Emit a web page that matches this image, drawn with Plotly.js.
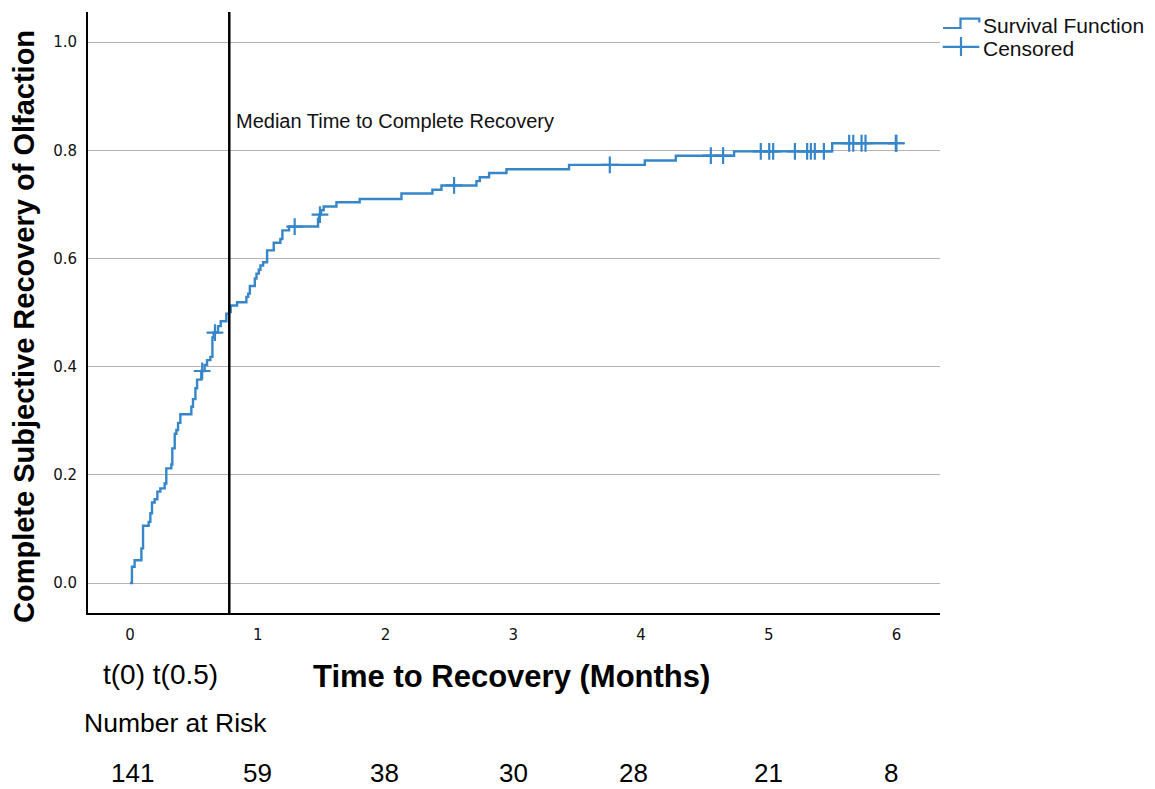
<!DOCTYPE html>
<html>
<head>
<meta charset="utf-8">
<script src="https://cdn.plot.ly/plotly-3.0.1.min.js"></script>
<style>
html,body{margin:0;padding:0;background:#fff;}
#chart{width:1155px;height:789px;}
</style>
</head>
<body>
<div id="chart"></div>
<script>
// Kaplan-Meier step data (time in months, cumulative complete recovery)
const stepTimes = [0, 0.015, 0.036, 0.089, 0.102, 0.146, 0.159, 0.172, 0.193, 0.214, 0.237, 0.271, 0.284, 0.323, 0.331, 0.350, 0.363, 0.376, 0.394, 0.480, 0.493, 0.512, 0.525, 0.558, 0.584, 0.603, 0.629, 0.645, 0.655, 0.689, 0.710, 0.754, 0.776, 0.788, 0.838, 0.911, 0.925, 0.938, 0.977, 0.990, 1.008, 1.021, 1.042, 1.073, 1.125, 1.177, 1.193, 1.245, 1.472, 1.480, 1.495, 1.516, 1.616, 1.798, 2.125, 2.367, 2.438, 2.712, 2.738, 2.811, 2.947, 3.437, 4.030, 4.273, 4.729, 5.497, 6.000];
const stepLevels = [0, 0.030, 0.042, 0.064, 0.106, 0.113, 0.129, 0.149, 0.155, 0.169, 0.175, 0.184, 0.212, 0.219, 0.249, 0.276, 0.283, 0.296, 0.312, 0.326, 0.340, 0.360, 0.376, 0.392, 0.403, 0.412, 0.418, 0.454, 0.463, 0.475, 0.484, 0.498, 0.501, 0.513, 0.519, 0.529, 0.535, 0.549, 0.563, 0.572, 0.579, 0.587, 0.593, 0.615, 0.629, 0.636, 0.652, 0.659, 0.673, 0.681, 0.689, 0.696, 0.704, 0.710, 0.720, 0.727, 0.735, 0.743, 0.750, 0.758, 0.765, 0.773, 0.781, 0.790, 0.798, 0.813, 0.813];

const censorTimes = [0.565, 0.665, 1.289, 1.487, 2.537, 3.756, 4.547, 4.643, 4.938, 5.004, 5.035, 5.205, 5.301, 5.330, 5.361, 5.432, 5.630, 5.662, 5.727, 5.758, 5.995, 6.000];
const censorLevels = [0.392, 0.463, 0.659, 0.681, 0.735, 0.773, 0.790, 0.790, 0.798, 0.798, 0.798, 0.798, 0.798, 0.798, 0.798, 0.798, 0.813, 0.813, 0.813, 0.813, 0.813, 0.813];

const medianTime = 0.777;
const xTickVals = [0, 1, 2, 3, 4, 5, 6];
const yTickVals = [0, 0.2, 0.4, 0.6, 0.8, 1.0];
const riskTimes = [0, 1, 2, 3, 4, 5, 6];
const riskCounts = [141, 59, 38, 30, 28, 21, 8];
const riskLabelOffsets = [0.02, 0.0, -0.01, 0.0, -0.06, 0.0, -0.04];

const blue = '#3686c9';
const textFont = 'Liberation Sans, Arial, sans-serif';

const traces = [
  {
    x: stepTimes, y: stepLevels, type: 'scatter', mode: 'lines',
    line: {shape: 'hv', color: blue, width: 2.4},
    hoverinfo: 'skip', showlegend: false
  },
  {
    x: censorTimes, y: censorLevels, type: 'scatter', mode: 'markers',
    marker: {symbol: 'cross-thin', size: 12, color: blue, line: {color: blue, width: 2.2}},
    hoverinfo: 'skip', showlegend: false
  }
];

// paper-coordinate helpers for the pixel layout
const L = 88, R = 940, T = 11.7, B = 613.3;
const px = v => (v - L) / (R - L);
const py = v => (B - v) / (B - T);

const annotations = [
  {xref:'x', yref:'y', x: 0.815, y: 0.854, xanchor:'left', yanchor:'middle', showarrow:false,
   text:'Median Time to Complete Recovery', font:{family:textFont, size:20, color:'#111'}},
  {xref:'paper', yref:'paper', x: px(511), y: py(677), xanchor:'center', yanchor:'middle', showarrow:false,
   text:'<b>Time to Recovery (Months)</b>', font:{family:textFont, size:31, color:'#000'}},
  {xref:'paper', yref:'paper', x: px(24), y: py(327), xanchor:'center', yanchor:'middle', showarrow:false, textangle:-90,
   text:'<b>Complete Subjective Recovery of Olfaction</b>', font:{family:textFont, size:29, color:'#000'}},
  {xref:'paper', yref:'paper', x: px(160.5), y: py(675), xanchor:'center', yanchor:'middle', showarrow:false,
   text:'t(0) t(0.5)', font:{family:textFont, size:28, color:'#000'}},
  {xref:'paper', yref:'paper', x: px(175.5), y: py(723), xanchor:'center', yanchor:'middle', showarrow:false,
   text:'Number at Risk', font:{family:textFont, size:26.5, color:'#000'}},
  {xref:'paper', yref:'paper', x: px(981), y: py(25), xanchor:'left', yanchor:'middle', showarrow:false,
   text:'Survival Function', font:{family:textFont, size:21, color:'#111'}},
  {xref:'paper', yref:'paper', x: px(981), y: py(48), xanchor:'left', yanchor:'middle', showarrow:false,
   text:'Censored', font:{family:textFont, size:21, color:'#111'}}
];
riskTimes.forEach((t, i) => {
  annotations.push({xref:'x', yref:'paper', x: t + riskLabelOffsets[i], y: py(773), xanchor:'center', yanchor:'middle',
    showarrow:false, text: String(riskCounts[i]), font:{family:textFont, size:26, color:'#000'}});
});

const shapes = [
  {type:'line', xref:'x', yref:'paper', x0: medianTime, x1: medianTime, y0: 0, y1: 1,
   line:{color:'#000', width:2.5}},
  // legend icons
  {type:'path', xref:'paper', yref:'paper',
   path:`M ${px(943)} ${py(27.7)} L ${px(960.5)} ${py(27.7)} L ${px(960.5)} ${py(18.3)} L ${px(979.3)} ${py(18.3)} L ${px(979.3)} ${py(22.3)}`,
   line:{color:blue, width:2.2}},
  {type:'line', xref:'paper', yref:'paper', x0: px(942.7), x1: px(979.3), y0: py(46.7), y1: py(46.7),
   line:{color:blue, width:2.2}},
  {type:'line', xref:'paper', yref:'paper', x0: px(961), x1: px(961), y0: py(36.7), y1: py(55.7),
   line:{color:blue, width:2.2}}
];

const layout = {
  width: 1155, height: 789,
  margin: {l: L, r: 1155 - R, t: T, b: 789 - B},
  paper_bgcolor: '#fff', plot_bgcolor: '#fff',
  showlegend: false,
  font: {family: textFont, color: '#111'},
  xaxis: {
    range: [-0.329, 6.341], tickvals: xTickVals, ticktext: xTickVals.map(String),
    showgrid: false, zeroline: false, showline: true, linecolor: '#000', linewidth: 2,
    ticks: 'outside', ticklen: 7, tickcolor: 'rgba(0,0,0,0)',
    tickfont: {family: 'DejaVu Sans, sans-serif', size: 15, color: '#111'}
  },
  yaxis: {
    range: [-0.0554, 1.0556], tickvals: yTickVals, ticktext: yTickVals.map(v => v.toFixed(1)),
    showgrid: true, gridcolor: '#b4b4b4', gridwidth: 1, zeroline: false,
    showline: true, linecolor: '#000', linewidth: 2,
    ticks: 'outside', ticklen: 6, tickcolor: 'rgba(0,0,0,0)',
    tickfont: {family: 'DejaVu Sans, sans-serif', size: 15, color: '#111'}
  },
  annotations: annotations,
  shapes: shapes
};

Plotly.newPlot('chart', traces, layout, {displayModeBar: false, staticPlot: true});
</script>
</body>
</html>
